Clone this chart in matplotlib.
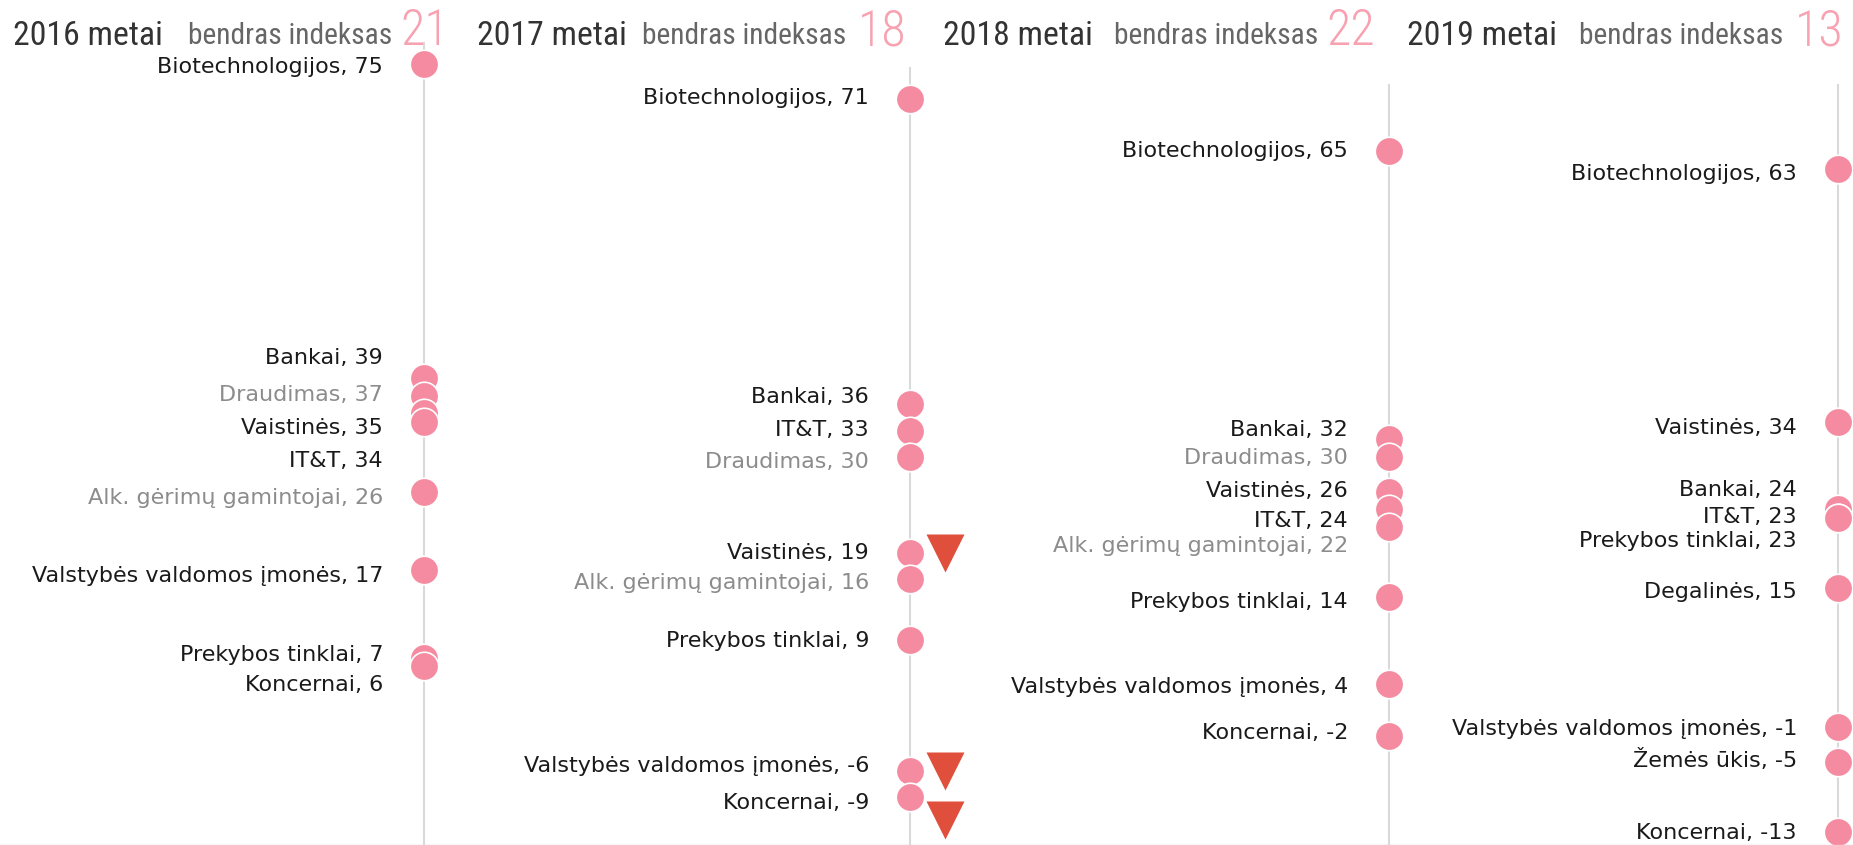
import matplotlib
matplotlib.use("Agg")
import matplotlib.pyplot as plt
from matplotlib import font_manager
from matplotlib.lines import Line2D

# data
years = [2016, 2017, 2018, 2019]
overall_index = [21, 18, 22, 13]

sectors_2016 = ["Biotechnologijos", "Bankai", "Draudimas", "Vaistinės", "IT&T",
                "Alk. gėrimų gamintojai", "Valstybės valdomos įmonės", "Prekybos tinklai", "Koncernai"]
values_2016 = [75, 39, 37, 35, 34, 26, 17, 7, 6]

sectors_2017 = ["Biotechnologijos", "Bankai", "IT&T", "Draudimas", "Vaistinės",
                "Alk. gėrimų gamintojai", "Prekybos tinklai", "Valstybės valdomos įmonės", "Koncernai"]
values_2017 = [71, 36, 33, 30, 19, 16, 9, -6, -9]

sectors_2018 = ["Biotechnologijos", "Bankai", "Draudimas", "Vaistinės", "IT&T",
                "Alk. gėrimų gamintojai", "Prekybos tinklai", "Valstybės valdomos įmonės", "Koncernai"]
values_2018 = [65, 32, 30, 26, 24, 22, 14, 4, -2]

sectors_2019 = ["Biotechnologijos", "Vaistinės", "Bankai", "IT&T", "Prekybos tinklai",
                "Degalinės", "Valstybės valdomos įmonės", "Žemės ūkis", "Koncernai"]
values_2019 = [63, 34, 24, 23, 23, 15, -1, -5, -13]

grey_sectors = ["Draudimas", "Alk. gėrimų gamintojai"]

# layout: where the labels sit (value units, spread so they don't overlap)
label_pos_2016 = [74.7, 41.3, 37.1, 33.3, 29.5, 25.3, 16.4, 7.3, 3.9]
label_pos_2017 = [71.1, 36.9, 33.1, 29.4, 19.0, 15.5, 8.9, -5.4, -9.65]
label_pos_2018 = [65.0, 33.1, 29.9, 26.1, 22.7, 19.8, 13.4, 3.6, -1.6]
label_pos_2019 = [62.4, 33.3, 26.2, 23.1, 20.4, 14.5, -1.2, -4.7, -13.1]

W, H = 1853, 846
line_px = [424, 910, 1389, 1838]      # x of each year's axis line
line_top = [77.4, 74.5, 72.6, 72.6]   # value where the grey line starts
header_x = [(13, 188, 400), (477, 642, 858), (943, 1114, 1326), (1407, 1579, 1795)]
header_w = (150, 204)                 # target widths in px
ymin, ymax = -14.58, 82.33

PINK = "#f58ba0"
PINK_LIGHT = "#f7a1b1"
RED = "#e04e3c"
LINE = "#d9d9d9"

names = {f.name for f in font_manager.fontManager.ttflist}
narrow = "Liberation Sans"
for cand in ["Liberation Sans Narrow", "Roboto Condensed", "Arial Narrow"]:
    if cand in names:
        narrow = cand
        break
label_font = "DejaVu Sans"

fig = plt.figure(figsize=(W / 100, H / 100), dpi=100)
renderer = fig.canvas.get_renderer()


def fit_width(t, target):
    w = t.get_window_extent(renderer).width
    t.set_fontsize(t.get_fontsize() * target / w)


all_sectors = [sectors_2016, sectors_2017, sectors_2018, sectors_2019]
all_values = [values_2016, values_2017, values_2018, values_2019]
all_labels = [label_pos_2016, label_pos_2017, label_pos_2018, label_pos_2019]

for i, year in enumerate(years):
    ax = fig.add_axes([0, 0, 1, 1])
    ax.set_xlim(-line_px[i], W - line_px[i])
    ax.set_ylim(ymin, ymax)
    ax.axis("off")
    ax.patch.set_alpha(0)

    ax.plot([0, 0], [ymin, line_top[i]], color=LINE, lw=1.5, zorder=1)

    sectors = all_sectors[i]
    vals = all_values[i]
    ax.scatter([0] * len(vals), vals, s=420, color=PINK, edgecolor="white",
               linewidth=1.2, zorder=3, clip_on=False)

    for name, v, ly in zip(sectors, vals, all_labels[i]):
        col = "#8c8c8c" if name in grey_sectors else "#1a1a1a"
        ax.annotate(f"{name}, {v}", xy=(0, ly), xytext=(-41 * 0.72, 0),
                    textcoords="offset points", ha="right", va="center",
                    fontsize=16, color=col, family=label_font)

    # red triangles for big drops vs previous year
    if i > 0:
        prev = dict(zip(all_sectors[i - 1], all_values[i - 1]))
        last = None
        for name, v in zip(sectors, vals):
            if name in prev and v - prev[name] <= -15:
                ty = v
                if last is not None and last - ty < 5.6:
                    ty = last - 5.6
                last = ty
                ax.plot(35, ty, marker="v", ms=27, color=RED, mec="none", zorder=3)

    # header
    hx = header_x[i]
    t1 = fig.text(hx[0] / W, 1 - 45 / H, f"{year} metai", fontsize=23, family=narrow,
                  color="#333333", va="baseline", ha="left")
    t2 = fig.text(hx[1] / W, 1 - 44 / H, "bendras indeksas", fontsize=21, family=narrow,
                  color="#666666", va="baseline", ha="left")
    fig.text(hx[2] / W, 1 - 45 / H, str(overall_index[i]), fontsize=36, family=narrow,
             fontweight="light", color=PINK_LIGHT, va="baseline", ha="left")
    for t, tw in zip((t1, t2), header_w):
        fit_width(t, tw)

fig.add_artist(Line2D([0, 1], [0.6 / H, 0.6 / H], color="#f7c6d0", lw=1))

fig.savefig("out.png", dpi=100)
